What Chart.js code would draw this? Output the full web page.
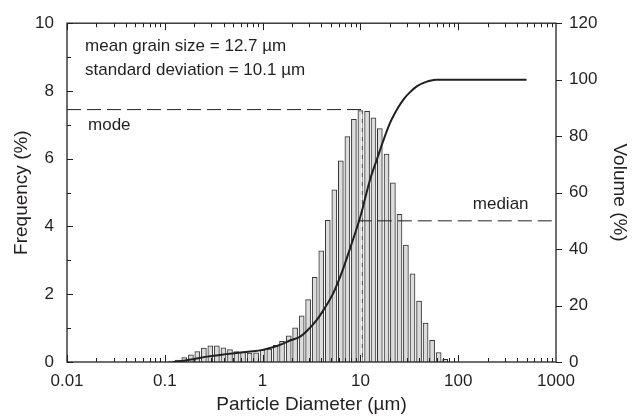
<!DOCTYPE html>
<html>
<head>
<meta charset="utf-8">
<script src="https://cdn.jsdelivr.net/npm/chart.js@4"></script>
<style>
  body { margin: 0; background: #fff; }
  #wrap { width: 635px; height: 418px; }
</style>
</head>
<body>
<div id="wrap"><canvas id="psd" width="635" height="418"></canvas></div>
<script>
// bin centres (um) and frequency (%)
const binDiam = [0.117, 0.136, 0.158, 0.185, 0.215, 0.251, 0.292, 0.341, 0.398, 0.464,
  0.541, 0.631, 0.736, 0.858, 1.0, 1.17, 1.36, 1.58, 1.85, 2.15,
  2.51, 2.92, 3.41, 3.98, 4.64, 5.41, 6.31, 7.36, 8.58, 10.0,
  11.7, 13.6, 15.8, 18.5, 21.5, 25.1, 29.2, 34.1, 39.8, 46.4,
  54.1, 63.1, 73.6];
const binFreq = [0.03, 0.06, 0.13, 0.21, 0.31, 0.41, 0.48, 0.48, 0.42, 0.37,
  0.31, 0.29, 0.26, 0.27, 0.35, 0.38, 0.49, 0.61, 0.77, 1.01,
  1.36, 1.84, 2.50, 3.28, 4.18, 5.08, 5.94, 6.65, 7.16, 7.42,
  7.40, 7.21, 6.89, 6.14, 5.29, 4.36, 3.45, 2.60, 1.80, 1.15,
  0.64, 0.28, 0.08];

// cumulative volume curve (%)
const cumDiam = [0.12, 0.15, 0.2, 0.27, 0.4, 0.6, 0.8, 1.0, 1.3, 1.6, 1.9, 2.4, 2.8,
  3.6, 4.3, 5.3, 6.5, 7.8, 9.0, 10.0, 11.0, 12.5, 14.7, 17.0, 20.0, 24.4,
  28, 32, 38, 47, 55, 60, 100, 200, 500];
const cumVol = [0, 0.4, 1.1, 1.9, 2.7, 3.4, 3.8, 4.3, 5.3, 6.4, 7.6, 8.9, 10.8,
  15, 19, 24.5, 32, 40, 46.5, 51.5, 57, 64.4, 71.6, 78, 84.5, 90.2,
  93.3, 95.5, 97.7, 99.2, 99.8, 100, 100, 100, 100];

// mode / median markers
const modeX = [0.01, 10.9];
const modeY = [7.45, 7.45];
const medianX = [9.4, 1000];
const medianY = [50, 50];
const medianMarkX = [10.3, 10.3];
const medianMarkY = [0, 7.45];

const xTicks = [0.01, 0.1, 1, 10, 100, 1000];
const freqTicks = [0, 2, 4, 6, 8, 10];
const volTicks = [0, 20, 40, 60, 80, 100, 120];

const FONT = "'Liberation Sans', Arial, sans-serif";
const INK = '#231f20';

const pts = (xs, ys) => xs.map((v, i) => ({ x: v, y: ys[i] }));

// frame, inward log ticks and text labels
const framePlugin = {
  id: 'frame',
  afterDraw(chart) {
    const { ctx, chartArea: a, scales: { x, y, y2 } } = chart;
    ctx.save();
    ctx.strokeStyle = INK;
    ctx.lineWidth = 1;
    ctx.beginPath();
    // log ticks, top and bottom, pointing in
    for (let e = -2; e <= 2; e++) {
      for (let m = 1; m <= 9; m++) {
        const v = m * Math.pow(10, e);
        const px = Math.round(x.getPixelForValue(v)) + 0.5;
        const len = m === 1 ? 7 : 4;
        ctx.moveTo(px, a.bottom); ctx.lineTo(px, a.bottom - len);
        ctx.moveTo(px, a.top); ctx.lineTo(px, a.top + len);
      }
    }
    // left ticks every 1 %, inward
    for (let v = 0; v <= 10; v += 1) {
      const py = Math.round(y.getPixelForValue(v)) + 0.5;
      const len = v % 2 === 0 ? 6 : 4;
      ctx.moveTo(a.left, py); ctx.lineTo(a.left + len, py);
    }
    // right ticks outward
    volTicks.forEach(v => {
      const py = Math.round(y2.getPixelForValue(v)) + 0.5;
      ctx.moveTo(a.right, py); ctx.lineTo(a.right + 6, py);
    });
    ctx.stroke();

    ctx.lineWidth = 1.3;
    ctx.strokeRect(a.left, a.top, a.right - a.left, a.bottom - a.top);

    ctx.fillStyle = INK;
    ctx.font = '17px ' + FONT;
    ctx.textBaseline = 'middle';
    ctx.textAlign = 'left';
    ctx.fillText('mean grain size = 12.7 \u00b5m', x.getPixelForValue(0.0153), y.getPixelForValue(9.33));
    ctx.fillText('standard deviation = 10.1 \u00b5m', x.getPixelForValue(0.0153), y.getPixelForValue(8.6));
    ctx.fillText('mode', x.getPixelForValue(0.0164), y.getPixelForValue(7.0));
    ctx.fillText('median', x.getPixelForValue(141), y2.getPixelForValue(55.8));
    ctx.restore();
  }
};

new Chart(document.getElementById('psd'), {
  type: 'bar',
  data: {
    datasets: [
      {
        type: 'line', label: 'cumulative', data: pts(cumDiam, cumVol), yAxisID: 'y2',
        borderColor: INK, borderWidth: 2, pointRadius: 0, cubicInterpolationMode: 'monotone',
        fill: false, order: 0
      },
      {
        type: 'line', label: 'mode', data: pts(modeX, modeY), yAxisID: 'y',
        borderColor: INK, borderWidth: 1, borderDash: [14, 6], pointRadius: 0, order: 1
      },
      {
        type: 'line', label: 'median', data: pts(medianX, medianY), yAxisID: 'y2',
        borderColor: INK, borderWidth: 1, borderDash: [14, 6], pointRadius: 0, order: 1
      },
      {
        type: 'line', label: 'medianMark', data: pts(medianMarkX, medianMarkY), yAxisID: 'y',
        borderColor: '#ffffff', borderWidth: 1.5, borderDash: [5, 4], pointRadius: 0, order: 2
      },
      {
        type: 'bar', label: 'frequency', data: pts(binDiam, binFreq), yAxisID: 'y',
        backgroundColor: '#dcdcdc', borderColor: '#333333', borderWidth: 1,
        barThickness: 5, order: 10
      }
    ]
  },
  options: {
    responsive: false,
    animation: false,
    devicePixelRatio: 1,
    layout: { padding: { top: 18, left: 0, right: 0, bottom: 0 } },
    plugins: { legend: { display: false }, tooltip: { enabled: false } },
    scales: {
      x: {
        type: 'logarithmic', min: 0.01, max: 1000, offset: false,
        grid: { display: false, drawTicks: false }, border: { display: false },
        afterBuildTicks: s => { s.ticks = xTicks.map(v => ({ value: v })); },
        afterFit: s => { s.height = 56; },
        ticks: {
          color: INK, font: { family: FONT, size: 17 }, padding: 9, maxRotation: 0,
          autoSkip: false, callback: v => String(v)
        },
        title: {
          display: true, text: 'Particle Diameter (\u00b5m)', color: INK,
          font: { family: FONT, size: 19 }, padding: { top: 0, bottom: 2 }
        }
      },
      y: {
        position: 'left', min: 0, max: 10,
        grid: { display: false, drawTicks: false }, border: { display: false },
        afterBuildTicks: s => { s.ticks = freqTicks.map(v => ({ value: v })); },
        afterFit: s => { s.width = 67; },
        ticks: { color: INK, font: { family: FONT, size: 17 }, padding: 13 },
        title: {
          display: true, text: 'Frequency (%)', color: INK,
          font: { family: FONT, size: 19 }, padding: { top: 10, bottom: 0 }
        }
      },
      y2: {
        position: 'right', min: 0, max: 120,
        grid: { display: false, drawTicks: false }, border: { display: false },
        afterBuildTicks: s => { s.ticks = volTicks.map(v => ({ value: v })); },
        afterFit: s => { s.width = 79; },
        ticks: { color: INK, font: { family: FONT, size: 17 }, padding: 13 },
        title: {
          display: true, text: 'Volume (%)', color: INK,
          font: { family: FONT, size: 19 }, padding: { top: 4, bottom: 0 }
        }
      }
    }
  },
  plugins: [framePlugin]
});
</script>
</body>
</html>
